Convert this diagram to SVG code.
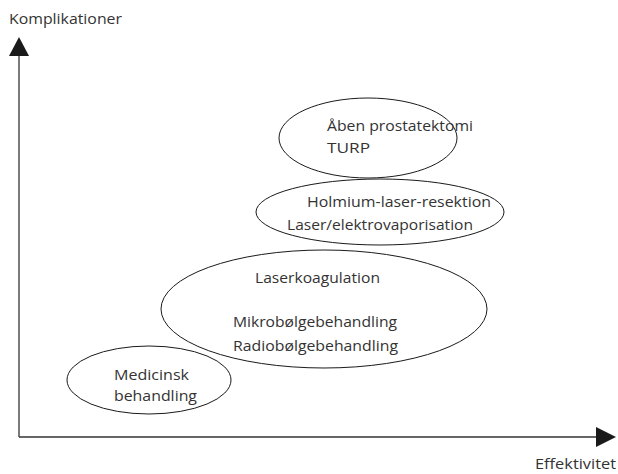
<svg xmlns="http://www.w3.org/2000/svg" width="618" height="474" viewBox="0 0 618 474">
<style>
text{font-family:"Open Sans","Liberation Sans",Arial,sans-serif;font-size:15px;fill:#333}
.s{font-size:14px}
.e{fill:none;stroke:#1a1a1a;stroke-width:1}
.ax{stroke:#333;stroke-width:1.3;fill:none}
</style>
<rect width="618" height="474" fill="#fff"/>
<g id="connectors">
<line class="ax" x1="19" y1="55" x2="19" y2="437"/>
<line class="ax" x1="19" y1="437" x2="597" y2="437"/>
<polygon points="19,37 29,56 9,56" fill="#1a1a1a"/>
<polygon points="616,437 596,427 596,447" fill="#1a1a1a"/>
</g>
<g id="axis-y-label"><text class="s" x="9" y="24" textLength="113" lengthAdjust="spacingAndGlyphs">Komplikationer</text></g>
<g id="axis-x-label"><text class="s" x="535" y="469" textLength="81" lengthAdjust="spacingAndGlyphs">Effektivitet</text></g>
<g id="n1"><ellipse class="e" cx="368" cy="138" rx="89" ry="40"/>
<text x="327" y="131" textLength="146" lengthAdjust="spacingAndGlyphs">Åben prostatektomi</text><text x="327" y="153" textLength="43" lengthAdjust="spacingAndGlyphs">TURP</text></g>
<g id="n2"><ellipse class="e" cx="380" cy="212" rx="124" ry="33"/>
<text x="307" y="207" textLength="184" lengthAdjust="spacingAndGlyphs">Holmium-laser-resektion</text><text x="287" y="230" textLength="186" lengthAdjust="spacingAndGlyphs">Laser/elektrovaporisation</text></g>
<g id="n3"><ellipse class="e" cx="324" cy="309" rx="163" ry="59"/>
<text x="255" y="283" textLength="125" lengthAdjust="spacingAndGlyphs">Laserkoagulation</text><text x="233" y="327" textLength="164" lengthAdjust="spacingAndGlyphs">Mikrobølgebehandling</text><text x="233" y="351" textLength="165" lengthAdjust="spacingAndGlyphs">Radiobølgebehandling</text></g>
<g id="n4"><ellipse class="e" cx="149" cy="380" rx="82" ry="34"/>
<text x="114" y="380" textLength="75" lengthAdjust="spacingAndGlyphs">Medicinsk</text><text x="114" y="401" textLength="83" lengthAdjust="spacingAndGlyphs">behandling</text></g>
</svg>
